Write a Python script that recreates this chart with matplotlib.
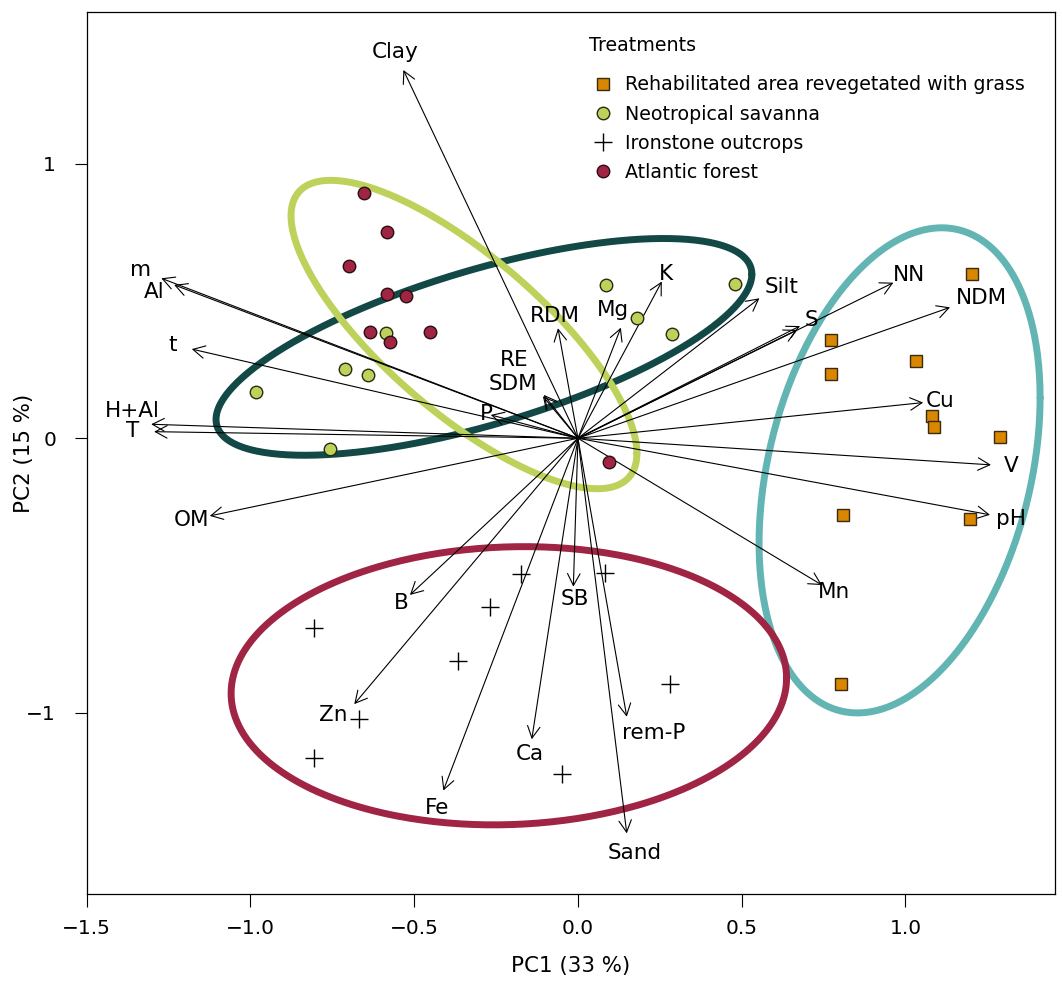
import numpy as np
import matplotlib.pyplot as plt

# sample scores (PC1, PC2) per treatment
rehab_pc1 = [1.204, 0.773, 1.033, 0.773, 1.080, 1.086, 1.289, 0.810, 1.197, 0.802]
rehab_pc2 = [0.598, 0.358, 0.281, 0.234, 0.081, 0.041, 0.006, -0.280, -0.294, -0.896]

savanna_pc1 = [-0.982, -0.757, -0.710, -0.640, -0.585, 0.085, 0.180, 0.287, 0.479]
savanna_pc2 = [0.168, -0.040, 0.253, 0.230, 0.382, 0.559, 0.438, 0.380, 0.561]

ironstone_pc1 = [-0.174, 0.082, -0.269, -0.807, -0.366, 0.282, -0.668, -0.805, -0.049]
ironstone_pc2 = [-0.496, -0.492, -0.614, -0.692, -0.810, -0.895, -1.023, -1.166, -1.225]

forest_pc1 = [-0.653, -0.584, -0.698, -0.584, -0.524, -0.634, -0.452, -0.574, 0.096]
forest_pc2 = [0.893, 0.753, 0.628, 0.526, 0.518, 0.388, 0.388, 0.352, -0.085]

# variable loadings (arrows)
var_names = ['Clay', 'm', 'Al', 't', 'H+Al', 'T', 'P', 'RE', 'SDM', 'RDM', 'Mg', 'K',
             'Silt', 'S', '', 'NN', 'NDM', 'Cu', 'V', 'pH', 'Mn', 'OM', 'B', 'Zn',
             'Fe', 'Ca', 'SB', 'rem-P', 'Sand']
var_pc1 = [-0.533, -1.272, -1.233, -1.179, -1.303, -1.294, -0.266, -0.104, -0.107, -0.061,
           0.131, 0.256, 0.554, 0.678, 0.669, 0.963, 1.136, 1.054, 1.261, 1.258, 0.745,
           -1.124, -0.513, -0.683, -0.411, -0.141, -0.014, 0.149, 0.149]
var_pc2 = [1.342, 0.583, 0.559, 0.325, 0.051, 0.024, 0.085, 0.158, 0.153, 0.401,
           0.403, 0.571, 0.510, 0.409, 0.395, 0.567, 0.477, 0.130, -0.097, -0.279, -0.535,
           -0.283, -0.571, -0.969, -1.284, -1.097, -0.541, -1.015, -1.440]

# group ellipses: centre, x half-width, y half-height, correlation
ell_rehab = (0.982, -0.117, 0.429, 0.884, 0.30)
ell_savanna = (-0.348, 0.378, 0.528, 0.562, -0.77)
ell_ironstone = (-0.211, -0.902, 0.848, 0.507, 0.055)
ell_forest = (-0.287, 0.333, 0.818, 0.395, 0.67)

col_rehab = '#D98600'
col_savanna = '#BDD25A'
col_forest = '#A02443'
col_ell_rehab = '#62B5B3'
col_ell_forest = '#124845'
col_ell_iron = '#A02443'

# manual label nudges (points) where labels were moved to avoid overlap
nudge = {'Al': (0, -10.5), 'H+Al': (2, 9), 'RE': (-20.5, 23.5), 'SDM': (-20.5, 7.5),
         'RDM': (-1.3, 5), 'Mg': (-7, 8.8), 'Silt': (9.6, 2.9), 'NDM': (8.9, 1.8),
         'Zn': (-7, 1.9), 'SB': (0.9, -3.7), 'rem-P': (17.4, -1.5), 'Sand': (4.2, 0)}

fs_leg = 13.7
fs_lab = 15.5
fs_tick = 14.5
fs_axis = 15.4
plt.rcParams['font.family'] = 'DejaVu Sans'

fig = plt.figure(figsize=(10.62, 9.81), dpi=100)
ax = fig.add_axes([0.0816, 0.0884, 0.9118, 0.8994])
ax.set_xlim(-1.5, 1.4565)
ax.set_ylim(-1.662, 1.5536)

# ellipses
tt = np.linspace(0, 2 * np.pi, 400)
for e, c in [(ell_forest, col_ell_forest), (ell_savanna, col_savanna),
             (ell_rehab, col_ell_rehab), (ell_ironstone, col_ell_iron)]:
    cx, cy, sx, sy, r = e
    ex = cx + sx * np.cos(tt)
    ey = cy + sy * (r * np.cos(tt) + np.sqrt(1 - r ** 2) * np.sin(tt))
    ax.plot(ex, ey, color=c, lw=5, zorder=1, solid_capstyle='round')

# arrows + labels
for name, x, y in zip(var_names, var_pc1, var_pc2):
    ax.annotate('', xy=(x, y), xytext=(0, 0),
                arrowprops=dict(arrowstyle='->,head_length=0.85,head_width=0.45',
                                mutation_scale=10, lw=0.8, color='black',
                                shrinkA=0, shrinkB=0), zorder=2)
    if name:
        ax.annotate(name, xy=(1.05 * x, 1.05 * y), xytext=nudge.get(name, (0, 0)),
                    textcoords='offset points', ha='center', va='center',
                    fontsize=fs_lab, zorder=5)

# points
ax.plot(rehab_pc1, rehab_pc2, 's', ms=8.6, mfc=col_rehab, mec='#3a2a10', mew=1,
        ls='none', zorder=3, label='Rehabilitated area revegetated with grass')
ax.plot(savanna_pc1, savanna_pc2, 'o', ms=9, mfc=col_savanna, mec='#2a2a10', mew=1,
        ls='none', zorder=3, label='Neotropical savanna')
ax.plot(ironstone_pc1, ironstone_pc2, '+', ms=12.5, mec='black', mew=1,
        ls='none', zorder=3, label='Ironstone outcrops')
ax.plot(forest_pc1, forest_pc2, 'o', ms=9, mfc=col_forest, mec='#2a1010', mew=1,
        ls='none', zorder=3, label='Atlantic forest')

ax.text(0.519, 0.962, 'Treatments', transform=ax.transAxes, fontsize=fs_leg,
        ha='left', va='center')
ax.legend(loc='upper left', bbox_to_anchor=(0.519, 0.928), frameon=False,
          fontsize=fs_leg, handlelength=1.5, handletextpad=0.4, labelspacing=0.53,
          borderpad=0, borderaxespad=0, markerscale=1.0)

ax.set_xticks([-1.5, -1.0, -0.5, 0.0, 0.5, 1.0])
ax.set_yticks([-1, 0, 1])
ax.tick_params(axis='both', direction='out', length=9, width=0.8, labelsize=fs_tick)
ax.tick_params(axis='x', pad=8.5)
ax.tick_params(axis='y', pad=13)
for s in ax.spines.values():
    s.set_linewidth(0.9)

ax.set_xlabel('PC1 (33 %)', fontsize=fs_axis)
ax.set_ylabel('PC2 (15 %)', fontsize=fs_axis)
ax.xaxis.set_label_coords(0.5, -0.0694)
ax.yaxis.set_label_coords(-0.0544, 0.5)

fig.savefig('out.png', dpi=100)
